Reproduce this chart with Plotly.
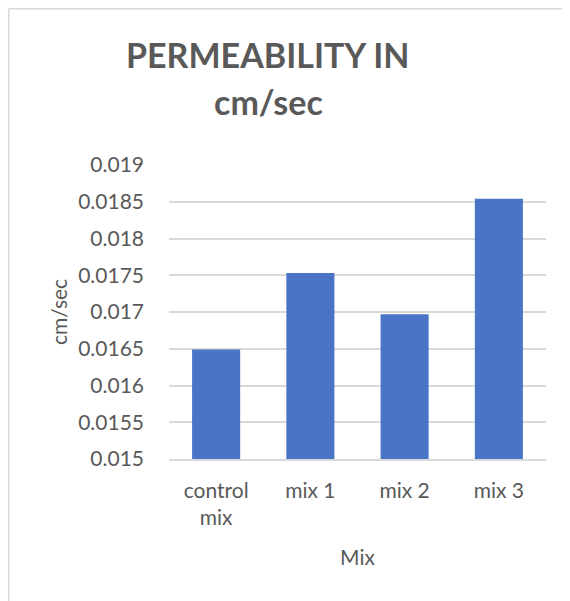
import plotly.graph_objects as go

categories = ["control<br>mix", "mix 1", "mix 2", "mix 3"]
values = [0.01649, 0.01753, 0.01697, 0.01854]
y_ticks = [0.015, 0.0155, 0.016, 0.0165, 0.017, 0.0175, 0.018, 0.0185, 0.019]
y_tick_labels = ["0.015", "0.0155", "0.016", "0.0165", "0.017", "0.0175", "0.018", "0.0185", "0.019"]

W, H = 562, 593
L, R, T, B = 161, 24, 157, 142
pw, ph = W - L - R, H - T - B

def px_x(px):
    return (px - L) / pw

def px_y(py):
    return (H - B - py) / ph

FONT = "Lato"
GREY = "#595959"
FS = 21
BORDER = dict(color="#d9d9d9", width=1.5)

fig = go.Figure()
fig.add_trace(go.Bar(
    x=categories, y=values,
    marker=dict(color="#4a75c7", line=dict(width=0)),
    width=0.51,
))

fig.update_layout(
    width=W, height=H,
    margin=dict(l=L, r=R, t=T, b=B, autoexpand=False),
    paper_bgcolor="white", plot_bgcolor="white",
    showlegend=False,
    font=dict(family=FONT, color=GREY, size=FS),
    xaxis=dict(
        showgrid=False, showline=True, linecolor="#d9d9d9", linewidth=1.5,
        ticks="", tickfont=dict(size=FS, color=GREY), ticklabelstandoff=12,
        title=dict(text="Mix", font=dict(size=FS, color=GREY), standoff=22),
        automargin=False,
    ),
    yaxis=dict(
        range=[0.015, 0.019], tickvals=y_ticks, ticktext=y_tick_labels,
        showgrid=True, gridcolor="#d9d9d9", gridwidth=1.5,
        zeroline=False, showline=False, ticks="",
        tickfont=dict(size=FS, color=GREY), ticklabelstandoff=24,
        title=dict(text="cm/sec", font=dict(size=FS, color=GREY), standoff=4),
        automargin=False,
    ),
    annotations=[
        dict(text="<b>PERMEABILITY IN</b>", xref="paper", yref="paper",
             x=px_x(260), y=px_y(46.5), xanchor="center", yanchor="middle",
             showarrow=False, font=dict(family=FONT, size=34, color=GREY)),
        dict(text="<b>cm/sec</b>", xref="paper", yref="paper",
             x=px_x(260), y=px_y(93), xanchor="center", yanchor="middle",
             showarrow=False, font=dict(family=FONT, size=34, color=GREY)),
    ],
    shapes=[
        dict(type="line", xref="paper", yref="paper",
             x0=px_x(0.75), x1=px_x(0.75), y0=px_y(H), y1=px_y(0.75),
             line=BORDER, layer="below"),
        dict(type="line", xref="paper", yref="paper",
             x0=px_x(0.75), x1=px_x(W), y0=px_y(0.75), y1=px_y(0.75),
             line=BORDER, layer="below"),
    ],
)

fig.write_html(
    "out.html",
    config={"displayModeBar": False},
    post_script="document.documentElement.style.overflow='hidden';document.body.style.overflow='hidden';",
)
